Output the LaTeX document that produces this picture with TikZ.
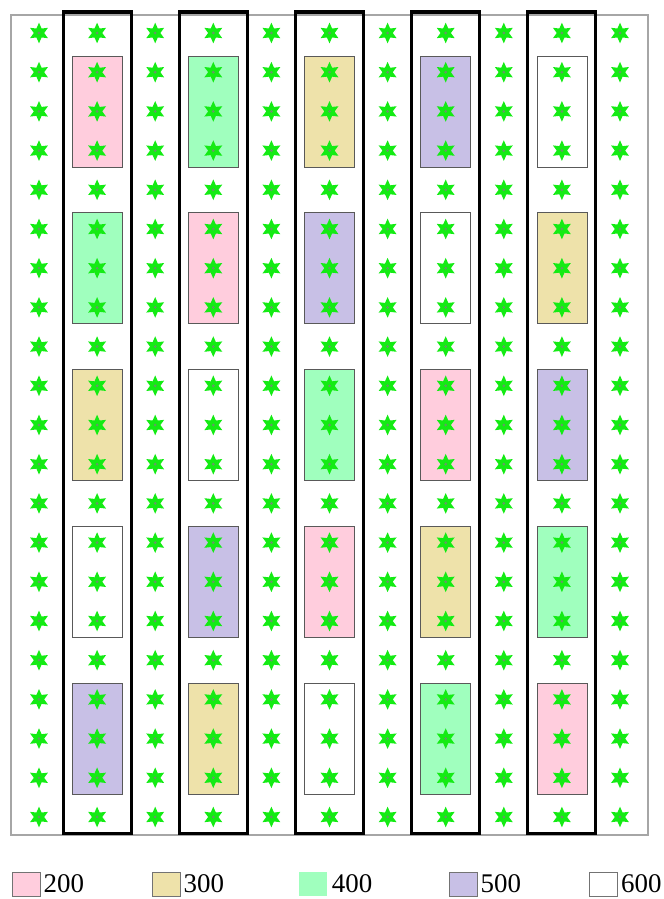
\documentclass[tikz,border=0pt]{standalone}
\usepackage{fontspec}
\setmainfont{Liberation Serif}
\usetikzlibrary{positioning, shapes.geometric}
\definecolor{dose200}{RGB}{255,205,221}
\definecolor{dose300}{RGB}{238,226,170}
\definecolor{dose400}{RGB}{160,255,190}
\definecolor{dose500}{RGB}{200,192,230}
\definecolor{dose600}{RGB}{255,255,255}
\definecolor{plantgreen}{RGB}{20,235,20}

\begin{document}
\begin{tikzpicture}[x=0.03cm, y=-0.03cm,
    plant/.style={star, star points=6, star point ratio=2.0, inner sep=0pt,
                  minimum size=0.62cm, fill=plantgreen, draw=none,
                  path picture={\fill[gray!80!green] (path picture bounding box.center) circle (1.3pt);}},
    plot/.style={draw=black!65, line width=0.6pt, minimum width=1.5cm,
                 minimum height=3.33cm, inner sep=0pt},
    strip/.style={draw, line width=2.6pt, minimum width=2.04cm,
                  minimum height=24.63cm, inner sep=0pt},
    key/.style={draw=black!55, line width=0.8pt, minimum width=0.84cm,
                minimum height=0.72cm, inner sep=0pt},
    keylabel/.style={inner sep=0pt, font=\fontsize{23}{23}\selectfont}]
    \useasboundingbox (0,0) rectangle (663,899);

    % field border
    \draw[gray!70, line width=1pt] (11,15) rectangle (648,835);

    % treatment strips with their plots
    \foreach \s/\cols in {1/{dose200,dose400,dose300,dose600,dose500},
                          2/{dose400,dose200,dose600,dose500,dose300},
                          3/{dose300,dose500,dose400,dose200,dose600},
                          4/{dose500,dose600,dose200,dose300,dose400},
                          5/{dose600,dose300,dose500,dose400,dose200}} {
        \node[strip] (strip\s) at ({39+58.1*(2*\s-1)},422.5) {};
        \foreach \col [count=\b] in \cols
            \node[plot, fill=\col] (plot-\s-\b) at ({39+58.1*(2*\s-1)},{33+39.2*(4*\b-2)}) {};
    }

    % plants
    \foreach \c in {0,...,10}
        \foreach \r in {0,...,20}
            \node[plant] (p-\c-\r) at ({39+58.1*\c},{33+39.2*\r}) {};

    % legend
    \node[key, fill=dose200] (k200) at (26,884) {};
    \node[key, fill=dose300] (k300) at (166,884) {};
    \node[key, fill=dose400, draw=none] (k400) at (313,884) {};
    \node[key, fill=dose500] (k500) at (463,884) {};
    \node[key, fill=dose600] (k600) at (603,884) {};
    \node[keylabel, right=2.5pt of k200] (l200) {200};
    \node[keylabel, right=2.5pt of k300] (l300) {300};
    \node[keylabel, right=3.5pt of k400] (l400) {400};
    \node[keylabel, right=2.5pt of k500] (l500) {500};
    \node[keylabel, right=3pt of k600] (l600) {600};
\end{tikzpicture}
\end{document}
